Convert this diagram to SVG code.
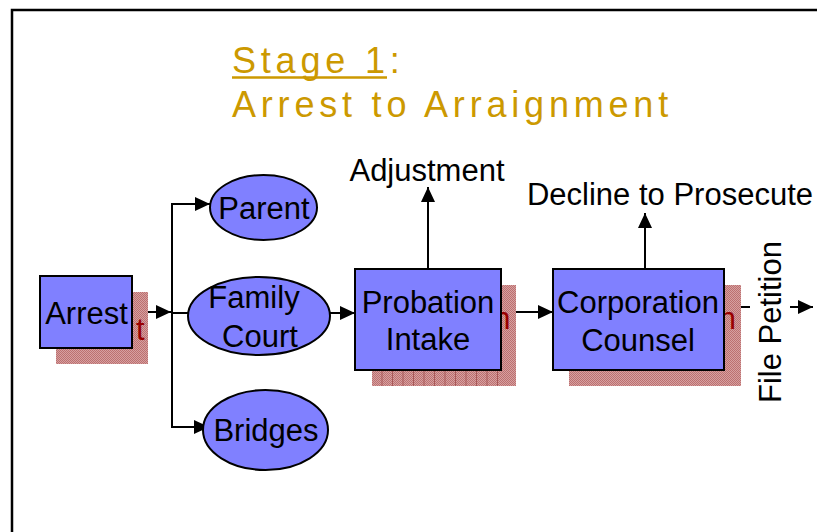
<svg xmlns="http://www.w3.org/2000/svg" width="817" height="532" viewBox="0 0 817 532">
<style>
.title{font-family:"Liberation Sans",Arial,sans-serif;font-size:36px;fill:#CC9900;letter-spacing:4.8px}
.lbl{font-family:"Liberation Sans",Arial,sans-serif;font-size:31px;fill:#000;text-anchor:middle}
.shtxt{font-family:"Liberation Sans",Arial,sans-serif;font-size:31px;fill:#990000;text-anchor:end}
.node{fill:#8080FF;stroke:#000;stroke-width:2}
.shadow{fill:url(#chk)}
.conn{stroke:#000;stroke-width:2;fill:none}
.stripe{stroke:#A85858;stroke-width:1}
</style>
<defs>
<pattern id="chk" width="2" height="2" patternUnits="userSpaceOnUse">
<rect width="2" height="2" fill="#D6A0A0"/>
<rect width="1" height="1" fill="#BC7070"/>
<rect x="1" y="1" width="1" height="1" fill="#BC7070"/>
</pattern>
<marker id="arr" markerWidth="16" markerHeight="14" refX="15" refY="7" orient="auto" markerUnits="userSpaceOnUse">
<path d="M0,0 L15,7 L0,14 z" fill="#000"/>
</marker>
</defs>
<rect width="817" height="532" fill="#fff"/>
<path d="M12,532 V10 H817" fill="none" stroke="#000" stroke-width="2.5"/>

<g id="title">
<text class="title" x="232" y="73">Stage 1:</text>
<line x1="232" y1="77.5" x2="387" y2="77.5" stroke="#CC9900" stroke-width="2.5"/>
<text class="title" x="232" y="117">Arrest to Arraignment</text>
</g>

<g id="connectors">
<line class="conn" x1="132" y1="312" x2="171" y2="312" marker-end="url(#arr)"/>
<line class="conn" x1="172" y1="204" x2="172" y2="428"/>
<line class="conn" x1="171" y1="204" x2="210" y2="204" marker-end="url(#arr)"/>
<line class="conn" x1="172" y1="313" x2="188" y2="313"/>
<line class="conn" x1="171" y1="427" x2="209" y2="427" marker-end="url(#arr)"/>
<line class="conn" x1="330" y1="313" x2="355" y2="313" marker-end="url(#arr)"/>
<line class="conn" x1="501" y1="312" x2="553" y2="312" marker-end="url(#arr)"/>
<line class="conn" x1="428" y1="269" x2="428" y2="187" marker-end="url(#arr)"/>
<line class="conn" x1="645" y1="269" x2="645" y2="213" marker-end="url(#arr)"/>
<line class="conn" x1="724" y1="307" x2="750" y2="307"/>
<line class="conn" x1="790" y1="307" x2="813" y2="307" marker-end="url(#arr)"/>
</g>

<g id="arrest">
<rect class="shadow" x="56" y="292" width="92" height="72"/>
<text class="shtxt" x="144.5" y="340">t</text>
<rect class="node" x="40" y="276" width="92" height="72"/>
<text class="lbl" x="86.5" y="324">Arrest</text>
</g>

<g id="parent">
<ellipse class="node" cx="263.5" cy="207.5" rx="53.5" ry="32.5"/>
<text class="lbl" x="264" y="219">Parent</text>
</g>

<g id="family-court">
<ellipse class="node" cx="259" cy="316" rx="71" ry="39"/>
<text class="lbl" x="254" y="308">Family</text>
<text class="lbl" x="260" y="347">Court</text>
</g>

<g id="bridges">
<ellipse class="node" cx="265.5" cy="430" rx="62.5" ry="40"/>
<text class="lbl" x="266" y="441">Bridges</text>
</g>

<g id="probation-intake">
<rect class="shadow" x="372" y="285" width="144" height="101"/>
<g class="stripe">
<line x1="382" y1="370" x2="382" y2="386"/><line x1="392.5" y1="370" x2="392.5" y2="386"/>
<line x1="403" y1="370" x2="403" y2="386"/><line x1="413.5" y1="370" x2="413.5" y2="386"/>
<line x1="424" y1="370" x2="424" y2="386"/><line x1="434.5" y1="370" x2="434.5" y2="386"/>
<line x1="445" y1="370" x2="445" y2="386"/><line x1="455.5" y1="370" x2="455.5" y2="386"/>
<line x1="466" y1="370" x2="466" y2="386"/><line x1="476.5" y1="370" x2="476.5" y2="386"/>
<line x1="487" y1="370" x2="487" y2="386"/><line x1="497.5" y1="370" x2="497.5" y2="386"/>
</g>
<text class="shtxt" x="510.5" y="329">n</text>
<rect class="node" x="355" y="269" width="146" height="101"/>
<text class="lbl" x="428" y="313">Probation</text>
<text class="lbl" x="428" y="350">Intake</text>
</g>

<g id="corporation-counsel">
<rect class="shadow" x="569" y="285" width="172" height="101"/>
<text class="shtxt" x="736" y="329">n</text>
<rect class="node" x="553" y="269" width="171" height="101"/>
<text class="lbl" x="638" y="313">Corporation</text>
<text class="lbl" x="638" y="351">Counsel</text>
</g>

<g id="adjustment">
<text class="lbl" x="427" y="181">Adjustment</text>
</g>
<g id="decline">
<text class="lbl" x="670" y="205">Decline to Prosecute</text>
</g>
<g id="file-petition">
<text class="lbl" style="text-anchor:start" transform="translate(781,403) rotate(-90)">File Petition</text>
</g>
</svg>
